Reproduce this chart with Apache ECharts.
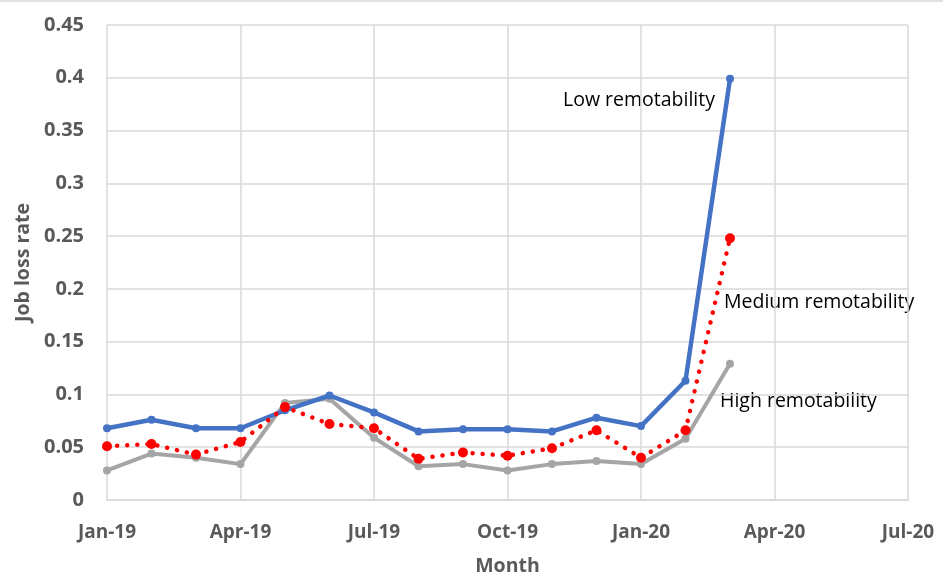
<!DOCTYPE html>
<html><head><meta charset="utf-8">
<script src="https://cdn.jsdelivr.net/npm/echarts@6/dist/echarts.min.js"></script>
<style>html,body{margin:0;padding:0;background:#fff}#c{width:943px;height:578px}</style>
</head><body><div id="c"></div>
<script>
// month index 0 = Jan-19
const months = [0,1,2,3,4,5,6,7,8,9,10,11,12,13,14];
const lowRemot =    [0.068,0.076,0.068,0.068,0.085,0.099,0.083,0.065,0.067,0.067,0.065,0.078,0.070,0.113,0.399];
const mediumRemot = [0.051,0.053,0.043,0.055,0.088,0.072,0.068,0.039,0.045,0.042,0.049,0.066,0.040,0.066,0.248];
const highRemot =   [0.028,0.044,0.040,0.034,0.092,0.096,0.059,0.032,0.034,0.028,0.034,0.037,0.034,0.058,0.129];
const tickLabels = {0:'Jan-19',3:'Apr-19',6:'Jul-19',9:'Oct-19',12:'Jan-20',15:'Apr-20',18:'Jul-20'};
const seriesNames = ['Low remotability','Medium remotability','High remotability'];

const pair = arr => months.map((m,i)=>[m,arr[i]]);
const FONT = '"Open Sans", sans-serif';
const chart = echarts.init(document.getElementById('c'), null, {renderer:'canvas'});
chart.setOption({
  animation:false,
  grid:{left:107,right:35,top:25,bottom:78,containLabel:false,outerBoundsMode:'none'},
  xAxis:{type:'value',min:0,max:18,interval:3,
    name:'Month',nameLocation:'middle',nameGap:56,
    nameTextStyle:{fontFamily:FONT,fontWeight:'bold',fontSize:19.5,color:'#595959'},
    axisLine:{show:true,lineStyle:{color:'#d9d9d9',width:1.5}},
    axisTick:{show:false},
    splitLine:{show:true,lineStyle:{color:'#d9d9d9',width:1.5}},
    axisLabel:{formatter:v=>tickLabels[v]||'',fontFamily:FONT,fontWeight:'bold',fontSize:19,color:'#595959',margin:23}
  },
  yAxis:{type:'value',min:0,max:0.45,interval:0.05,
    name:'Job loss rate',nameLocation:'middle',nameGap:73,
    nameTextStyle:{fontFamily:FONT,fontWeight:'bold',fontSize:19.5,color:'#595959'},
    axisLine:{show:false},axisTick:{show:false},
    splitLine:{lineStyle:{color:'#d9d9d9',width:1.5}},
    axisLabel:{formatter:v=>String(parseFloat(v.toFixed(2))),fontFamily:FONT,fontWeight:'bold',fontSize:20,color:'#595959',margin:23}
  },
  series:[
    {name:seriesNames[0],type:'line',data:pair(lowRemot),symbol:'circle',symbolSize:8,
      itemStyle:{color:'#4472C4'},lineStyle:{color:'#4472C4',width:4.5},z:3},
    {name:seriesNames[1],type:'line',data:pair(mediumRemot),symbol:'circle',symbolSize:10,
      itemStyle:{color:'#FF0000'},lineStyle:{color:'#FF0000',width:4.5,type:[0.1,10],cap:'round'},z:4},
    {name:seriesNames[2],type:'line',data:pair(highRemot),symbol:'circle',symbolSize:8,
      itemStyle:{color:'#A5A5A5'},lineStyle:{color:'#A5A5A5',width:4},z:2}
  ],
  graphic:[
    {type:'text',x:563,y:100,style:{text:seriesNames[0],font:'19.5px '+FONT,fill:'#000',textVerticalAlign:'middle'}},
    {type:'text',x:724,y:302,style:{text:seriesNames[1],font:'19.5px '+FONT,fill:'#000',textVerticalAlign:'middle'}},
    {type:'text',x:720,y:401,style:{text:seriesNames[2],font:'19.5px '+FONT,fill:'#000',textVerticalAlign:'middle'}},
    {type:'line',shape:{x1:0,y1:1,x2:943,y2:1},style:{stroke:'#d9d9d9',lineWidth:1.5}}
  ]
});
</script></body></html>
